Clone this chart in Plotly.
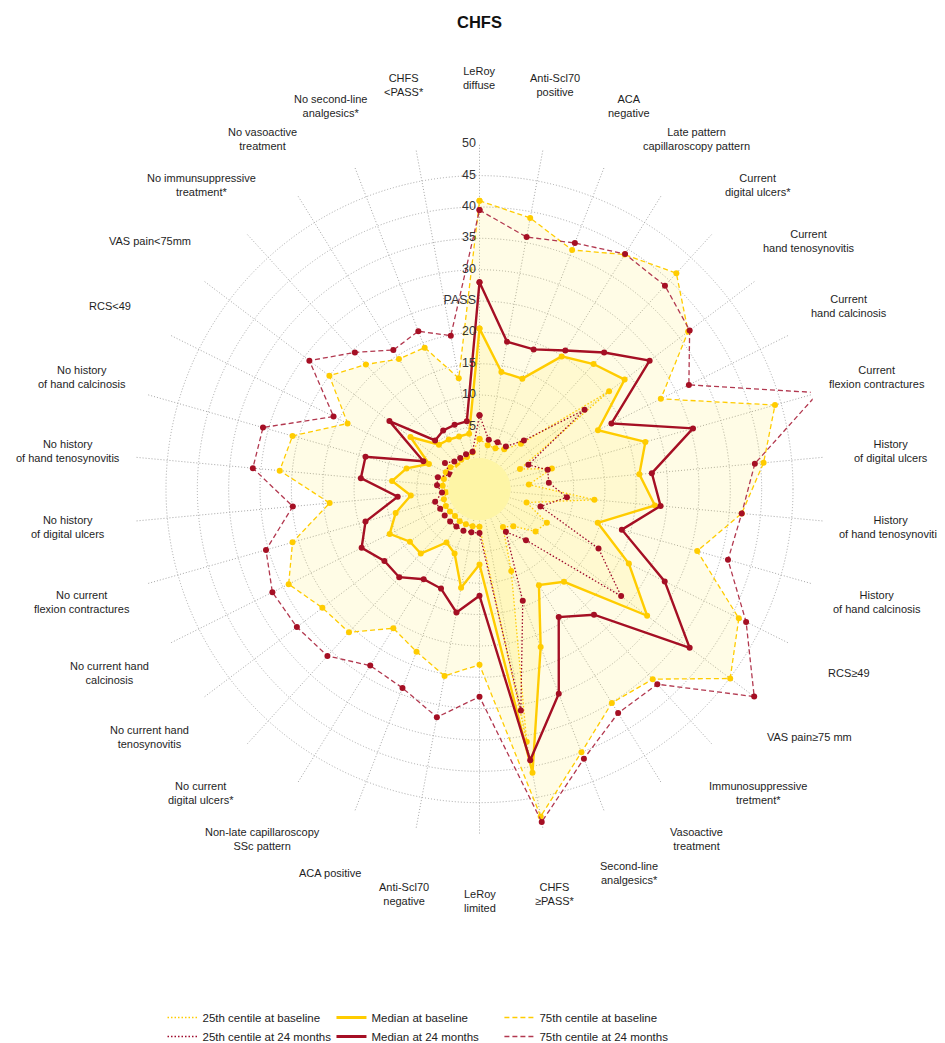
import math
import plotly.graph_objects as go

# categories, clockwise from the top
categories = [
    "LeRoy diffuse", "Anti-Scl70 positive", "ACA negative",
    "Late pattern capillaroscopy pattern", "Current digital ulcers*",
    "Current hand tenosynovitis", "Current hand calcinosis",
    "Current flexion contractures", "History of digital ulcers",
    "History of hand tenosynovitis", "History of hand calcinosis",
    "RCS≥49", "VAS pain≥75 mm", "Immunosuppressive tretment*",
    "Vasoactive treatment", "Second-line analgesics*", "CHFS ≥PASS*",
    "LeRoy limited", "Anti-Scl70 negative", "ACA positive",
    "Non-late capillaroscopy SSc pattern", "No current digital ulcers*",
    "No current hand tenosynovitis", "No current hand calcinosis",
    "No current flexion contractures", "No history of digital ulcers",
    "No history of hand tenosynovitis", "No history of hand calcinosis",
    "RCS<49", "VAS pain<75mm", "No immunsuppressive treatment*",
    "No vasoactive treatment", "No second-line analgesics*", "CHFS <PASS*",
]

# how the labels are broken over lines
labels = [
    "LeRoy<br>diffuse", "Anti-Scl70<br>positive", "ACA<br>negative",
    "Late pattern<br>capillaroscopy pattern", "Current<br>digital ulcers*",
    "Current<br>hand tenosynovitis", "Current<br>hand calcinosis",
    "Current<br>flexion contractures", "History<br>of digital ulcers",
    "History<br>of hand tenosynovitis", "History<br>of hand calcinosis",
    "RCS≥49", "VAS pain≥75 mm", "Immunosuppressive<br>tretment*",
    "Vasoactive<br>treatment", "Second-line<br>analgesics*", "CHFS<br>≥PASS*",
    "LeRoy<br>limited", "Anti-Scl70<br>negative", "ACA positive",
    "Non-late capillaroscopy<br>SSc pattern", "No current<br>digital ulcers*",
    "No current hand<br>tenosynovitis", "No current hand<br>calcinosis",
    "No current<br>flexion contractures", "No history<br>of digital ulcers",
    "No history<br>of hand tenosynovitis", "No history<br>of hand calcinosis",
    "RCS<49", "VAS pain<75mm", "No immunsuppressive<br>treatment*",
    "No vasoactive<br>treatment", "No second-line<br>analgesics*", "CHFS<br><PASS*",
]

p25_base = [3.0, 2.1, 2.0, 2.5, 4.8, 20.9, 2.2, 7.0, 2.9, 13.4, 2.8, 7.0, 6.2, 3.0,
            2.1, 9.0, 36.0, 1.0, 1.0, 1.0, 1.0, 0.8, 0.9, 1.0, 0.9, 0.3, 0.9, 0.9,
            1.0, 0.8, 0.1, 0.5, 0.5, 1.0]
med_base = [20.6, 14.0, 13.9, 19.9, 22.0, 24.0, 16.1, 22.5, 20.6, 23.1, 14.6, 21.6,
            28.5, 15.0, 13.0, 22.0, 41.0, 7.0, 11.0, 6.0, 5.0, 8.9, 8.9, 11.0, 8.9,
            6.0, 9.0, 7.1, 4.0, 8.8, 4.6, 4.3, 4.0, 4.0]
p75_base = [41.0, 39.0, 35.9, 39.0, 41.6, 36.7, 27.3, 44.0, 40.5, 37.0, 31.1, 41.2,
            45.1, 36.0, 35.1, 40.0, 48.1, 23.0, 25.3, 22.8, 21.1, 25.9, 26.4, 29.0,
            26.0, 19.0, 27.0, 26.0, 18.5, 25.0, 21.9, 19.4, 19.2, 13.0]
p25_24m = [6.8, 3.0, 3.0, 3.0, 5.5, 16.0, 3.7, 6.3, 6.1, 9.0, 5.1, 16.2, 23.3, 6.0,
           3.0, 14.1, 30.9, 2.0, 2.0, 2.1, 2.0, 1.95, 1.95, 2.0, 2.35, 1.0, 1.8, 1.9,
           0.2, 1.9, 0.95, 0.85, 0.95, 1.05]
med_24m = [28.0, 18.9, 18.9, 21.0, 24.5, 29.0, 18.5, 30.4, 22.6, 24.0, 18.6, 28.0,
           37.0, 22.1, 19.0, 30.0, 39.0, 12.0, 15.0, 12.0, 11.9, 14.0, 14.0, 16.0,
           13.9, 8.1, 14.0, 13.9, 5.0, 13.0, 5.5, 6.0, 6.0, 6.0]
p75_24m = [39.5, 35.9, 37.1, 39.1, 38.9, 37.0, 32.3, 51.2, 39.1, 37.0, 36.2, 42.5,
           49.9, 37.1, 37.0, 41.1, 49.0, 28.1, 32.0, 29.0, 28.1, 31.0, 31.5, 31.9,
           30.4, 24.9, 31.3, 30.9, 21.0, 29.0, 24.5, 21.1, 22.0, 19.9]

# radial ticks, 25 is the PASS threshold
tick_vals = [5, 10, 15, 20, 25, 30, 35, 40, 45, 50]
tick_text = ['5', '10', '15', '20', 'PASS', '30', '35', '40', '45', '50']

YELLOW = '#FFCC00'
RED = '#A50F24'
RED_DOT = '#9E0A2C'
RED_DASH = '#B2384F'
GRID = '#A6A6A6'
FONT = 'Arial, Liberation Sans, sans-serif'
DASH = '5px,3px'
DOT = '1.5px,2px'

# the page adds an 8 px body margin, so figure px = screen px - 8
W, H = 945, 1043
CX, CY, RAD = 471.5, 483, 346.5   # polar centre and outer radius (figure px)
LABEL_R = 413                     # radius of the category label centres (px)
HOLE = 1 / 11
dom_x = [(CX - RAD) / W, (CX + RAD) / W]
dom_y = [(H - CY - RAD) / H, (H - CY + RAD) / H]


def closed(vals):
    return vals + vals[:1]


theta = closed(categories)

series = [
    # name, values, colour, width, dash, fill
    ('75th centile at baseline', p75_base, YELLOW, 1.3, DASH, 'rgba(255,236,90,0.15)'),
    ('Median at baseline', med_base, YELLOW, 2.4, 'solid', 'rgba(255,236,90,0.15)'),
    ('25th centile at baseline', p25_base, YELLOW, 1.3, DOT, 'rgba(255,236,90,0.15)'),
    ('75th centile at 24 months', p75_24m, RED_DASH, 1.3, DASH, None),
    ('Median at 24 months', med_24m, RED, 2.4, 'solid', None),
    ('25th centile at 24 months', p25_24m, RED_DOT, 1.3, DOT, None),
]

fig = go.Figure()

for name, vals, col, w, dash, fillcol in series:
    marker_col = YELLOW if col == YELLOW else RED
    fig.add_trace(go.Scatterpolar(
        r=closed(vals), theta=theta,
        mode='lines+markers',
        line=dict(color=col, width=w, dash=dash),
        marker=dict(color=marker_col, size=6),
        fill='toself' if fillcol else 'none',
        fillcolor=fillcol,
        cliponaxis=False,
        showlegend=False,
        name=name,
    ))

# radial tick labels, left of the vertical axis
fig.add_trace(go.Scatterpolar(
    r=tick_vals, theta=[categories[0]] * len(tick_vals),
    mode='text', text=[t + ' ' for t in tick_text], textposition='middle left',
    textfont=dict(family=FONT, size=12.5, color='#333333'),
    showlegend=False, hoverinfo='skip',
))

# legend entries (lines only), three columns of two
legend_order = [
    ('25th centile at baseline', YELLOW, 1.3, DOT, 'legend'),
    ('25th centile at 24 months', RED_DOT, 1.3, DOT, 'legend'),
    ('Median at baseline', YELLOW, 3, 'solid', 'legend2'),
    ('Median at 24 months', RED, 3, 'solid', 'legend2'),
    ('75th centile at baseline', YELLOW, 1.3, DASH, 'legend3'),
    ('75th centile at 24 months', RED_DASH, 1.3, DASH, 'legend3'),
]
for name, col, w, dash, leg in legend_order:
    fig.add_trace(go.Scatterpolar(
        r=[None], theta=[categories[0]], mode='lines',
        line=dict(color=col, width=w, dash=dash),
        name=name, legend=leg, showlegend=True,
    ))

# category labels centred on a circle outside the grid
n = len(categories)
for k, lab in enumerate(labels):
    ang = math.radians(k * 360 / n)
    fig.add_annotation(
        x=(CX + LABEL_R * math.sin(ang)) / W,
        y=(H - CY + LABEL_R * math.cos(ang)) / H,
        xref='paper', yref='paper', text=lab, showarrow=False,
        xanchor='center', yanchor='middle', align='center',
        font=dict(family=FONT, size=11, color='#1E1E1E'),
    )

# pale centre disc
hx = HOLE * RAD / W
hy = HOLE * RAD / H
fig.add_shape(type='circle', xref='paper', yref='paper',
              x0=CX / W - hx, x1=CX / W + hx,
              y0=(H - CY) / H - hy, y1=(H - CY) / H + hy,
              fillcolor='#FEF5A6', line=dict(width=0), layer='above')

legend_style = dict(font=dict(family=FONT, size=11.5, color='#222222'),
                    bgcolor='rgba(0,0,0,0)', yanchor='top', xanchor='left',
                    tracegroupgap=0, itemwidth=30)
LEG_Y = 1 - 999 / H

fig.update_layout(
    width=W, height=H,
    margin=dict(l=0, r=0, t=0, b=0),
    paper_bgcolor='white',
    title=dict(text='<b>CHFS</b>', x=CX / W, xanchor='center', y=1 - 14 / H,
               yanchor='middle', yref='container',
               font=dict(family=FONT, size=16.5, color='#111111')),
    polar=dict(
        domain=dict(x=dom_x, y=dom_y),
        hole=HOLE,
        bgcolor='white',
        radialaxis=dict(range=[0, 50.05], tickvals=tick_vals,
                        showticklabels=False, showline=False, ticks='',
                        gridcolor=GRID, griddash='1px,2px', gridwidth=1),
        angularaxis=dict(direction='clockwise', rotation=90,
                         showticklabels=False, ticks='', showline=False,
                         gridcolor=GRID, griddash='1px,2px', gridwidth=1),
    ),
    legend=dict(x=0.1635, y=LEG_Y, **legend_style),
    legend2=dict(x=0.3423, y=LEG_Y, **legend_style),
    legend3=dict(x=0.520, y=LEG_Y, **legend_style),
)

fig.write_html("out.html")
